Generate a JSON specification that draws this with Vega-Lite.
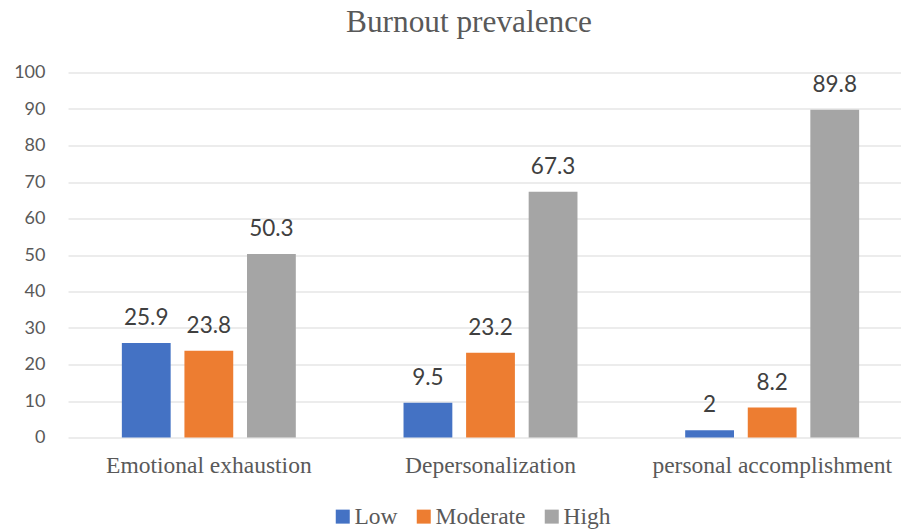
{
  "$schema": "https://vega.github.io/schema/vega-lite/v6.json",
  "autosize": "none",
  "width": 845,
  "height": 365,
  "padding": {"left": 68, "top": 72.5, "right": 0, "bottom": 93.5},
  "background": "white",
  "config": {
    "font": "Liberation Serif",
    "view": {"stroke": null},
    "legend": {"labelFont": "Liberation Serif", "labelFontSize": 23.5}
  },
  "title": {
    "text": "Burnout prevalence",
    "font": "Liberation Serif",
    "fontSize": 31.3,
    "fontWeight": "normal",
    "color": "#595959",
    "anchor": "middle",
    "offset": 25,
    "dx": -21.5
  },
  "data": {
    "values": [
      {"dimension": "Emotional exhaustion", "level": "Low", "value": 25.9},
      {"dimension": "Emotional exhaustion", "level": "Moderate", "value": 23.8},
      {"dimension": "Emotional exhaustion", "level": "High", "value": 50.3},
      {"dimension": "Depersonalization", "level": "Low", "value": 9.5},
      {"dimension": "Depersonalization", "level": "Moderate", "value": 23.2},
      {"dimension": "Depersonalization", "level": "High", "value": 67.3},
      {"dimension": "personal accomplishment", "level": "Low", "value": 2},
      {"dimension": "personal accomplishment", "level": "Moderate", "value": 8.2},
      {"dimension": "personal accomplishment", "level": "High", "value": 89.8}
    ]
  },
  "encoding": {
    "x": {
      "field": "dimension",
      "type": "nominal",
      "sort": ["Emotional exhaustion", "Depersonalization", "personal accomplishment"],
      "scale": {"paddingInner": 0.3824, "paddingOuter": 0.1912},
      "axis": {
        "title": null,
        "labelAngle": 0,
        "labelFont": "Liberation Serif",
        "labelFontSize": 23.5,
        "labelColor": "#595959",
        "labelPadding": 16,
        "labelLimit": 0,
        "ticks": false,
        "domain": false,
        "grid": false
      }
    },
    "xOffset": {
      "field": "level",
      "type": "nominal",
      "sort": ["Low", "Moderate", "High"],
      "scale": {"paddingInner": 0.22, "paddingOuter": 0}
    },
    "y": {
      "field": "value",
      "type": "quantitative",
      "scale": {"domain": [0, 100]},
      "axis": {
        "title": null,
        "values": [0, 10, 20, 30, 40, 50, 60, 70, 80, 90, 100],
        "labelFont": "Lato",
        "labelFontSize": 18,
        "labelColor": "#595959",
        "labelPadding": 23,
        "ticks": false,
        "domain": false,
        "gridColor": "#d9d9d9",
        "gridWidth": 1
      }
    }
  },
  "layer": [
    {
      "mark": {"type": "bar"},
      "encoding": {
        "color": {
          "field": "level",
          "type": "nominal",
          "sort": ["Low", "Moderate", "High"],
          "scale": {"domain": ["Low", "Moderate", "High"], "range": ["#4472C4", "#ED7D31", "#A5A5A5"]},
          "legend": {
            "title": null,
            "orient": "none",
            "legendX": 263,
            "legendY": 432,
            "direction": "horizontal",
            "symbolType": "square",
            "symbolSize": 196,
            "symbolStrokeWidth": 0,
            "labelFont": "Liberation Serif",
            "labelFontSize": 23.5,
            "labelColor": "#595959",
            "columnPadding": 14,
            "labelOffset": 0,
            "labelLimit": 0,
            "encode": {
              "labels": {
                "update": {
                  "font": {"value": "Liberation Serif"},
                  "fontSize": {"value": 23.5},
                  "fill": {"value": "#595959"}
                }
              }
            }
          }
        }
      }
    },
    {
      "mark": {"type": "text", "baseline": "alphabetic", "dy": -18, "font": "Lato", "fontSize": 22.5, "color": "#404040"},
      "encoding": {
        "text": {"field": "value", "type": "quantitative"}
      }
    }
  ]
}
